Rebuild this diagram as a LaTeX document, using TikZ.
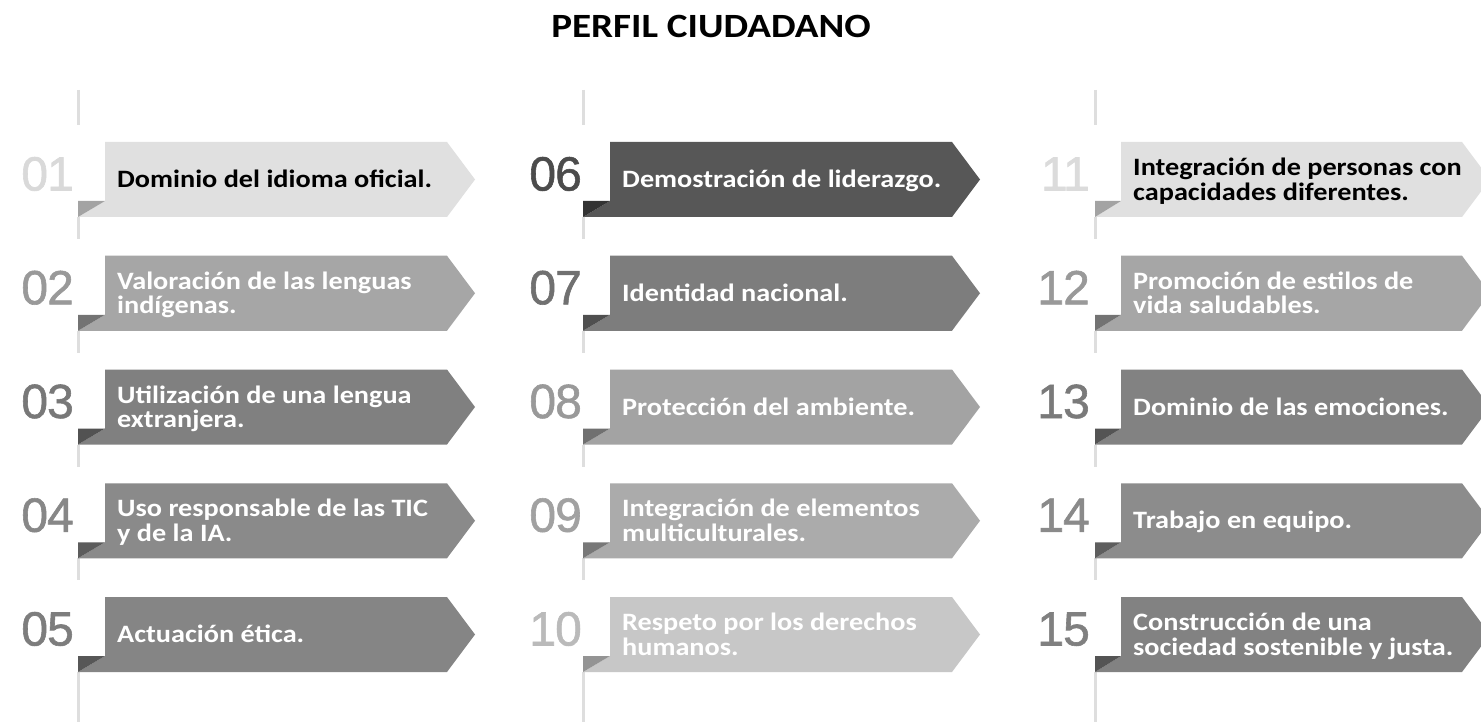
\documentclass[tikz,border=0pt]{standalone}
\usepackage{fontspec}
\setmainfont{Carlito}
\newfontfamily\titlefont[FakeStretch=1.15]{Carlito}
\newfontfamily\bfont[FakeStretch=1.13]{Carlito}
\newfontfamily\numfont[FakeBold=1.2,LetterSpace=-2]{Liberation Sans}
\tikzset{
  vline/.style={line width=3pt, draw=black!13},
  numlabel/.style={anchor=base east, inner sep=0pt, font=\numfont\fontsize{48}{48}\selectfont},
  bannertext/.style={anchor=base west, inner sep=0pt, font=\bfont\bfseries\fontsize{25}{23.5}\selectfont},
  titlelabel/.style={inner sep=0pt, font=\titlefont\bfseries\fontsize{34}{34}\selectfont}
}
\begin{document}
\begin{tikzpicture}[x=1pt,y=-1pt]
\fill[white] (0,0) rectangle (1481,722);
\useasboundingbox (0,0) rectangle (1481,722);
\node[titlelabel] (title) at (711,26) {PERFIL CIUDADANO};
% vertical guide lines
\foreach \lx in {78,583,1095}{
  \draw[vline] (\lx,90) -- (\lx,125);
  \foreach \r in {0,...,3}{
    \pgfmathsetmacro\B{142+113.75*\r+75}
    \pgfmathsetmacro\Be{\B+22}
    \draw[vline] (\lx,\B) -- (\lx,\Be);
  }
  \draw[vline] (\lx,672) -- (\lx,722);
}
% banners
\foreach \id/\c/\r/\fc/\dc/\nc/\tc/\dy/\txt in {
 01/0/0/12/36/15/black/8/{Dominio del idioma oficial.},
 02/0/1/35/55/40/white/-4/{Valoración de las lenguas\\indígenas.},
 03/0/2/50/68/53/white/-4/{Utilización de una lengua\\extranjera.},
 04/0/3/46/64/47/white/-4/{Uso responsable de las TIC\\y de la IA.},
 05/0/4/48/66/51/white/8/{Actuación ética.},
 06/1/0/66/80/70/white/8/{Demostración de liderazgo.},
 07/1/1/51/69/56/white/8/{Identidad nacional.},
 08/1/2/36/56/40/white/8/{Protección del ambiente.},
 09/1/3/33/53/37/white/-4/{Integración de elementos\\multiculturales.},
 10/1/4/22/42/27/white/-4/{Respeto por los derechos\\humanos.},
 11/2/0/12/36/14/black/-4/{Integración de personas con\\capacidades diferentes.},
 12/2/1/35/55/40/white/-4/{Promoción de estilos de\\vida saludables.},
 13/2/2/49/67/52/white/8/{Dominio de las emociones.},
 14/2/3/45/63/46/white/8/{Trabajo en equipo.},
 15/2/4/49/67/50/white/-4/{Construcción de una\\sociedad sostenible y justa.}}{
  \pgfmathsetmacro\lx{{78,583,1095}[\c]}
  \pgfmathsetmacro\L{{105,610,1121}[\c]}
  \pgfmathsetmacro\R{{447,952,1462}[\c]}
  \pgfmathsetmacro\tip{{475,980,1490}[\c]}
  \pgfmathsetmacro\nx{{74,582,1090}[\c]}
  \pgfmathsetmacro\T{142+113.75*\r}
  \pgfmathsetmacro\B{\T+75}
  \pgfmathsetmacro\F{\B-16}
  \pgfmathsetmacro\C{\T+37.5}
  \pgfmathsetmacro\ty{\C+\dy}
  \pgfmathsetmacro\nb{\T+48.5}
  \pgfmathsetmacro\tx{\L+12}
  % body
  \fill[black!\fc] (\L,\T) -- (\R,\T) -- (\tip,\C) -- (\R,\B) -- (\lx,\B) -- (\L,\F) -- cycle;
  % fold
  \fill[black!\dc] (\lx,\F) -- (\L,\F) -- (\lx,\B) -- cycle;
  \node[numlabel, text=black!\nc] (n\id) at (\nx,\nb) {\id};
  \node[bannertext, text=\tc] (t\id) at (\tx,\ty) {\begin{tabular}[t]{@{}l@{}}\txt\end{tabular}};
}
\end{tikzpicture}
\end{document}
